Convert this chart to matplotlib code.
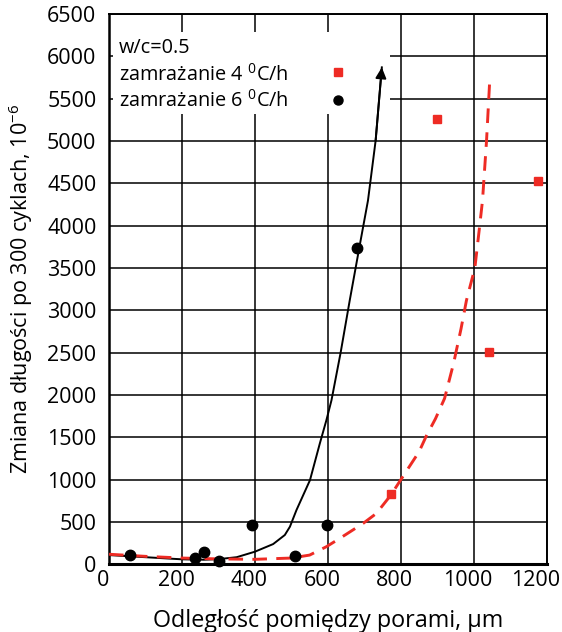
import matplotlib
matplotlib.use("Agg")
import matplotlib.pyplot as plt
from matplotlib.patches import Rectangle
from matplotlib.transforms import ScaledTranslation

plt.rcParams['font.family'] = ['Open Sans', 'DejaVu Sans']
plt.rcParams['mathtext.fontset'] = 'custom'
plt.rcParams['mathtext.rm'] = 'Open Sans'
plt.rcParams['mathtext.it'] = 'Open Sans'

# data
x_ticks = [0, 200, 400, 600, 800, 1000, 1200]
y_ticks = list(range(0, 7000, 500))

pts_6_x = [58, 237, 260, 302, 391, 510, 597, 679]
pts_6_y = [115, 70, 150, 45, 470, 100, 465, 3735]

pts_4_x = [773, 900, 1042, 1177]
pts_4_y = [830, 5260, 2510, 4530]

curve_6_x = [0, 100, 200, 260, 300, 350, 400, 450, 482, 496, 514, 551, 578, 596, 610, 635, 660, 686, 710, 731, 748]
curve_6_y = [110, 85, 60, 55, 62, 85, 150, 240, 347, 445, 642, 995, 1428, 1703, 1939, 2500, 3118, 3735, 4297, 5005, 5870]

curve_4_x = [0, 100, 200, 300, 400, 500, 550, 596, 633, 697, 733, 773, 800, 850, 870, 895, 920, 945, 965, 980, 1003, 1015, 1024, 1035, 1044]
curve_4_y = [120, 95, 75, 65, 60, 75, 110, 209, 308, 485, 602, 820, 1000, 1330, 1517, 1720, 1960, 2380, 2780, 3118, 3500, 3950, 4297, 5000, 5732]

RED = '#ee2b24'

fig = plt.figure(figsize=(5.62, 6.32), dpi=100)
ax = fig.add_axes([109/562, 1-564.4/632, (546.7-109)/562, (564.4-14)/632])
ax.set_xlim(0, 1200)
ax.set_ylim(0, 6500)
ax.set_xticks(x_ticks)
ax.set_yticks(y_ticks)
ax.grid(True, color='black', linewidth=1.1, zorder=0)
ax.set_axisbelow(True)
ax.tick_params(length=0, labelsize=15.5)
ax.tick_params(axis='y', pad=9)
ax.tick_params(axis='x', pad=4)
labs = ax.get_xticklabels()
for i, lab in enumerate(labs):
    dx = -11 if i == len(labs) - 1 else -6
    lab.set_transform(lab.get_transform() + ScaledTranslation(dx/100, 0, fig.dpi_scale_trans))
for s in ax.spines.values():
    s.set_linewidth(1.4)
ax.spines['bottom'].set_linewidth(2.2)
ax.spines['left'].set_linewidth(1.8)

# white box behind legend text
ax.add_patch(Rectangle((10, 5315), 760, 968, facecolor='white', edgecolor='none', zorder=1))

ax.plot(curve_6_x, curve_6_y, color='black', lw=1.4, zorder=3)
ax.annotate('', xy=(curve_6_x[-1], curve_6_y[-1]), xytext=(curve_6_x[-2], curve_6_y[-2]),
            arrowprops=dict(arrowstyle='-|>', color='black', lw=1.4, mutation_scale=16, shrinkA=0, shrinkB=0),
            zorder=4)
ax.plot(curve_4_x, curve_4_y, color=RED, lw=2.1, dashes=(5, 3.2), zorder=3)

ax.plot(pts_6_x, pts_6_y, 'o', color='black', ms=7.5, zorder=5, clip_on=False)
ax.plot(pts_4_x, pts_4_y, 's', color=RED, ms=5.5, zorder=5, clip_on=False)

# legend
fs = 14.3
ax.text(27, 6095, 'w/c=0.5', fontsize=fs, va='center', ha='left', zorder=6)
ax.text(27, 5779, 'zamrażanie 4 $^{0}$C/h', fontsize=fs, va='center', ha='left', zorder=6)
ax.text(27, 5473, 'zamrażanie 6 $^{0}$C/h', fontsize=fs, va='center', ha='left', zorder=6)
ax.plot([627], [5816], 's', color=RED, ms=5.5, zorder=6)
ax.plot([627], [5482], 'o', color='black', ms=6.5, zorder=6)

ax.set_xlabel('Odległość pomiędzy porami, μm', fontsize=16.8, labelpad=13)
ax.set_ylabel('Zmiana długości po 300 cyklach, 10$^{-6}$', fontsize=15.5, labelpad=9)

fig.savefig('out.png', dpi=100)
